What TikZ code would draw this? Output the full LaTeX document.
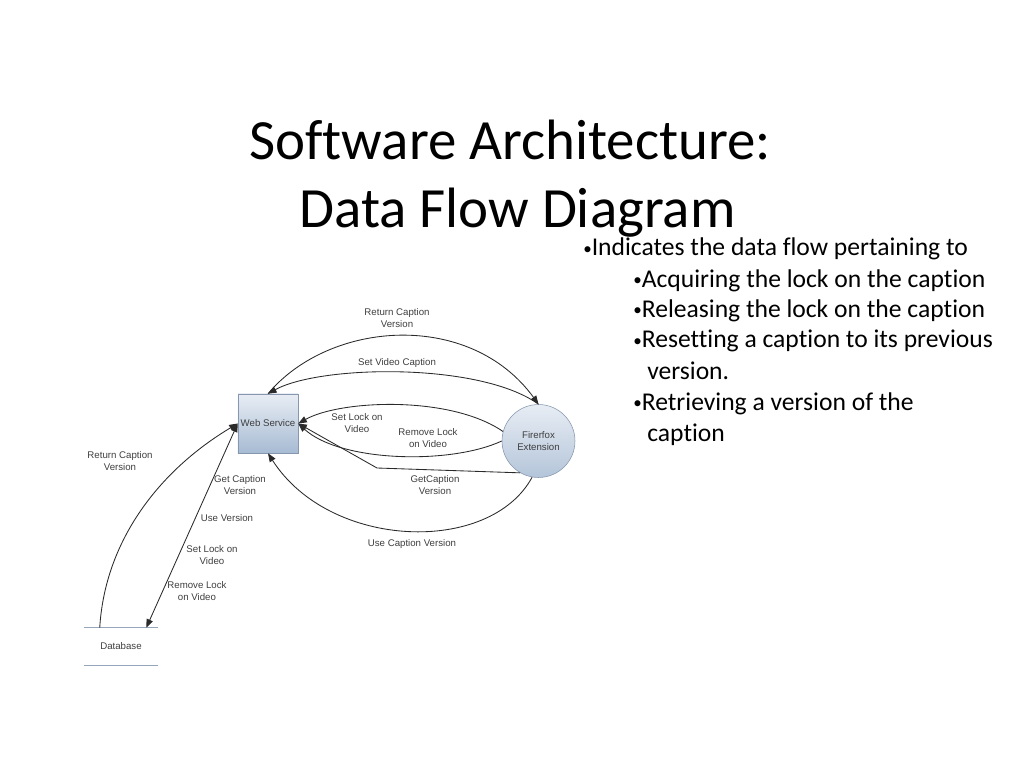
\documentclass[tikz,border=0pt]{standalone}
\usepackage{fontspec}
\setmainfont{Carlito}[Ligatures=NoCommon]
\newfontfamily\lblfont{Liberation Sans}
\usetikzlibrary{arrows.meta,positioning,calc}

\definecolor{boxtop}{HTML}{E8EDF4}
\definecolor{boxbot}{HTML}{A7BBD3}
\definecolor{boxline}{HTML}{8697AF}
\definecolor{flowline}{HTML}{2A2A2A}
\definecolor{lbltext}{HTML}{3E3E3E}
\definecolor{storeline}{HTML}{95A5BB}

\newcommand{\smallbul}{\raisebox{0.8pt}{\fontsize{12}{12}\selectfont•}}

\begin{document}
\begin{tikzpicture}[x=0.703125pt, y=-0.703125pt,
  procbox/.style={draw=boxline, top color=boxtop, bottom color=boxbot, minimum width=42.2pt, minimum height=41.5pt, inner sep=1pt, font=\lblfont\fontsize{6.8}{8.4}\selectfont, text=lbltext},
  extcircle/.style={circle, draw=boxline, top color=boxtop, bottom color=boxbot!80!boxtop, minimum size=51.3pt, inner sep=1pt, align=center, font=\lblfont\fontsize{6.8}{8.4}\selectfont, text=lbltext},
  storebox/.style={minimum width=52pt, minimum height=26pt, inner sep=1pt, font=\lblfont\fontsize{6.8}{8.4}\selectfont, text=lbltext},
  flowlbl/.style={align=center, inner sep=0pt, font=\lblfont\fontsize{6.8}{8.4}\selectfont, text=lbltext},
  flow/.style={-{Triangle[length=6pt, width=4.6pt]}, line width=0.6pt, draw=flowline},
  titleline/.style={anchor=base, inner sep=0pt, font=\fontsize{40}{44}\selectfont},
  bullet/.style={anchor=base west, inner sep=0pt, font=\fontsize{18}{21.6}\selectfont}]
  \useasboundingbox (0,0) rectangle (1024,768);
  % Title
  \node[titleline] (title1) at (510,160) {Software Architecture:};
  \node[titleline] (title2) at (517.5,228) {Data Flow Diagram};
  % Bullets on the right
  \node[bullet] (intro) at (583,256) {\smallbul Indicates the data flow pertaining to};
  \node[bullet] (subA) at (633,287) {\smallbul Acquiring the lock on the caption};
  \node[bullet] (subB) at (633,317) {\smallbul Releasing the lock on the caption};
  \node[bullet] (subC) at (633,348) {\smallbul Resetting a caption to its previous};
  \node[bullet] (subCc) at (647,379) {version.};
  \node[bullet] (subD) at (633,410) {\smallbul Retrieving a version of the};
  \node[bullet] (subDd) at (647,441) {caption};
  % Processes and store
  \node[procbox] (ws) at (268,423.5) {Web Service};
  \node[extcircle] (ffx) at (538.5,441) {Firerfox\\Extension};
  \node[storebox] (db) at (121,646.5) {Database};
  \draw[storeline, line width=0.8pt] (db.north west) -- (db.north east);
  \draw[storeline, line width=0.8pt] (db.south west) -- (db.south east);
  % Flows over the top
  \draw[flow] (ws.north) .. controls (330,320) and (470,310) .. (ffx.north);
  \draw[flow] (ffx.north) .. controls (480,362) and (320,365) .. (ws.north);
  \node[flowlbl] (lretcap) at (397,318) {Return Caption\\Version};
  \node[flowlbl] (lsetcap) at (397,363) {Set Video Caption};
  % Lock flows
  \draw[flow] (ffx.165) .. controls (450,395) and (340,400) .. (ws.east);
  \draw[flow] (ffx.180) .. controls (450,465) and (340,462) .. (ws.east);
  \node[flowlbl] (lsetlock) at (357,423) {Set Lock on\\Video};
  \node[flowlbl] (lremlock) at (428,438) {Remove Lock\\on Video};
  % Version flows
  \coordinate (gcbend) at (377,468);
  \draw[flow] (ffx.240) -- (gcbend) -- (ws.east);
  \node[flowlbl] (lgetcap) at (435,485) {GetCaption\\Version};
  \draw[flow] (ffx.260) .. controls (490,555) and (330,550) .. (ws.south);
  \node[flowlbl] (lusecap) at (412,544) {Use Caption Version};
  % Flows to the database
  \draw[flow] ($(db.north west)+(16,0)$) .. controls (105,540) and (160,470) .. (ws.west);
  \draw[flow, {Triangle[length=6pt, width=4.6pt]}-{Triangle[length=6pt, width=4.6pt]}] ($(db.north east)+(-12,0)$) -- (ws.west);
  \node[flowlbl] (ldbret) at (120,461) {Return Caption\\Version};
  \node[flowlbl] (ldbget) at (240,485) {Get Caption\\Version};
  \node[flowlbl] (ldbuse) at (227,518) {Use Version};
  \node[flowlbl] (ldbset) at (212,555) {Set Lock on\\Video};
  \node[flowlbl] (ldbrem) at (197,591) {Remove Lock\\on Video};
\end{tikzpicture}
\end{document}
